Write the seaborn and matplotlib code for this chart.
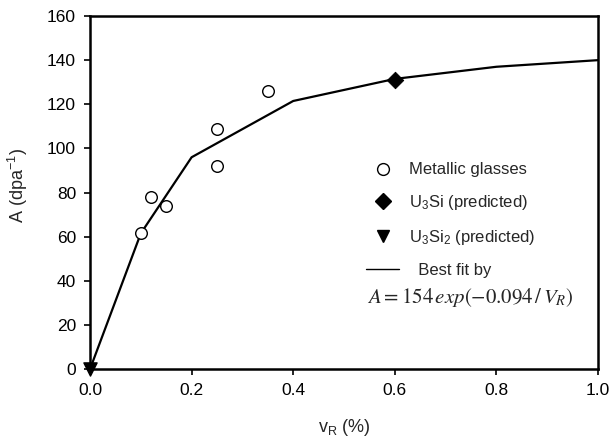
import matplotlib
matplotlib.use("Agg")
import matplotlib.pyplot as plt
import seaborn as sns
import pandas as pd
from matplotlib.lines import Line2D

# Data
glass_v = [0.10, 0.12, 0.15, 0.25, 0.25, 0.35]
glass_a = [61.5, 78, 74, 109, 92, 126]
u3si_v = [0.6]
u3si_a = [131]
u3si2_v = [0.0]
u3si2_a = [0.0]
fit_v = [0.0, 0.1, 0.2, 0.4, 0.6, 0.8, 1.0]
fit_a = [0.0, 61.5, 96, 121.5, 131.5, 137, 140]

xticks = [0.0, 0.2, 0.4, 0.6, 0.8, 1.0]
yticks = [0, 20, 40, 60, 80, 100, 120, 140, 160]

sns.set_theme(style="ticks")
plt.rcParams['font.family'] = ['Liberation Sans', 'DejaVu Sans']
plt.rcParams['mathtext.fontset'] = 'custom'
plt.rcParams['mathtext.rm'] = 'Liberation Sans'
plt.rcParams['mathtext.it'] = 'Liberation Sans:italic'

fig = plt.figure(figsize=(6.14, 4.41), dpi=100)
ax = fig.add_axes([0.1466, 0.163, 0.8274, 0.8007])

fit_df = pd.DataFrame({"v": fit_v, "A": fit_a})
sns.lineplot(data=fit_df, x="v", y="A", ax=ax, color="black", lw=1.6, sort=False)

g_df = pd.DataFrame({"v": glass_v, "A": glass_a})
sns.scatterplot(data=g_df, x="v", y="A", ax=ax, marker="o", s=70,
                facecolor="white", edgecolor="black", linewidth=1.0, zorder=3)
sns.scatterplot(x=u3si_v, y=u3si_a, ax=ax, marker="D", s=70, color="black",
                edgecolor="black", zorder=4, clip_on=False)
ax.scatter(u3si2_v, u3si2_a, marker="v", s=90, color="black", zorder=5, clip_on=False)

ax.set_xlim(0, 1.0)
ax.set_ylim(0, 160)
ax.set_xticks(xticks)
ax.set_xticklabels([f"{t:.1f}" for t in xticks])
ax.set_yticks(yticks)
ax.set_yticklabels([str(t) for t in yticks])
ax.tick_params(axis="both", labelsize=12.5, direction="out", length=4, width=1.2,
               colors="black", pad=6)
for s in ax.spines.values():
    s.set_visible(True)
    s.set_linewidth(1.8)
    s.set_color("black")

ax.set_xlabel("v$_\\mathrm{R}$ (%)", fontsize=13, labelpad=14)
ax.set_ylabel("A (dpa$^{-1}$)", fontsize=13)
ax.yaxis.set_label_coords(-0.118, 0.52)

handles = [
    Line2D([], [], marker="o", ls="none", markerfacecolor="white",
           markeredgecolor="black", markersize=8.5),
    Line2D([], [], marker="D", ls="none", color="black", markersize=8),
    Line2D([], [], marker="v", ls="none", color="black", markersize=9),
    Line2D([], [], color="black", lw=1.0),
]
labels = ["Metallic glasses", "U$_3$Si (predicted)", "U$_3$Si$_2$ (predicted)", "  Best fit by"]
leg = ax.legend(handles, labels, loc="upper left", bbox_to_anchor=(0.514, 0.628),
                frameon=False, fontsize=12, handlelength=2.0, handletextpad=0.6,
                labelspacing=0.95)

ax.text(0.545, 0.204, "$A = 154\\,exp\\left(-0.094\\,/\\,V_R\\right)$",
        transform=ax.transAxes, fontsize=15, math_fontfamily="stix", ha="left", va="center")

fig.savefig("out.png", dpi=100)
